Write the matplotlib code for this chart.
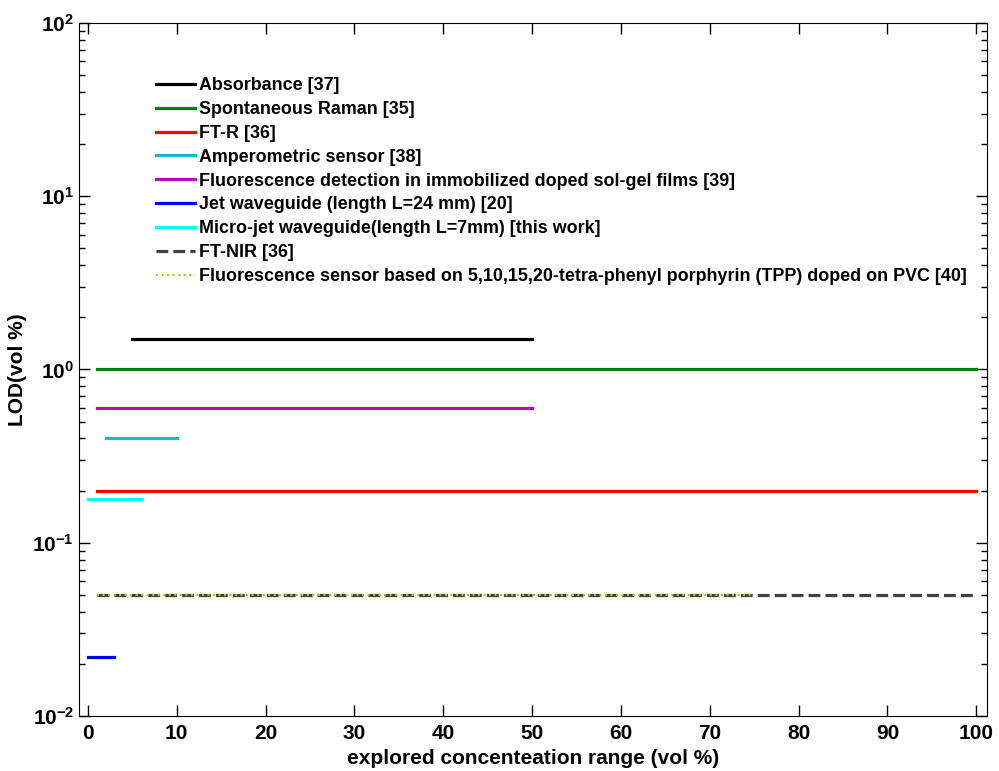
import matplotlib
matplotlib.use("Agg")
from matplotlib import pyplot as plt
from matplotlib.ticker import FixedLocator, LogLocator, NullFormatter

plt.rcParams['font.family'] = ['Liberation Sans', 'DejaVu Sans']
plt.rcParams['font.weight'] = 'bold'
plt.rcParams['mathtext.fontset'] = 'custom'
plt.rcParams['mathtext.rm'] = 'Liberation Sans'
plt.rcParams['mathtext.bf'] = 'Liberation Sans:bold'

# data
labels = ["Absorbance [37]",
          "Spontaneous Raman [35]",
          "FT-R [36]",
          "Amperometric sensor [38]",
          "Fluorescence detection in immobilized doped sol-gel films [39]",
          "Jet waveguide (length L=24 mm) [20]",
          "Micro-jet waveguide(length L=7mm) [this work]",
          "FT-NIR [36]",
          "Fluorescence sensor based on 5,10,15,20-tetra-phenyl porphyrin (TPP) doped on PVC [40]"]
x_start = [5, 1, 1, 2, 1, 0, 0, 1, 1]
x_end = [50, 100, 100, 10, 50, 3, 6, 100, 75]
lod = [1.5, 1.0, 0.2, 0.4, 0.6, 0.022, 0.18, 0.05, 0.05]

colors = ['k', (0, 0.5, 0), 'r', (0.05, 0.75, 0.75), (0.75, 0, 0.75), 'b', (0, 1, 1),
          (0.25, 0.25, 0.25), (0.75, 0.75, 0)]
styles = ['-', '-', '-', '-', '-', '-', '-', '--', ':']
widths = [2.3, 2.3, 2.3, 2.3, 2.3, 2.3, 2.3, 2.3, 1.5]

fig = plt.figure(figsize=(9.99, 7.71), dpi=100)
ax = fig.add_axes([0.079, 0.0713, 0.909, 0.899])

for i in range(len(labels)):
    ax.plot([x_start[i], x_end[i]], [lod[i], lod[i]], color=colors[i],
            linestyle=styles[i], linewidth=widths[i], label=labels[i])

ax.set_yscale('log')
ax.set_xlim(-1, 101.2)
ax.set_ylim(1e-2, 1e2)
ax.xaxis.set_major_locator(FixedLocator(range(0, 101, 10)))
ax.yaxis.set_major_locator(FixedLocator([1e-2, 1e-1, 1, 10, 100]))
ax.set_yticklabels([r'$\mathbf{10^{-2}}$', r'$\mathbf{10^{-1}}$', r'$\mathbf{10^{0}}$',
                    r'$\mathbf{10^{1}}$', r'$\mathbf{10^{2}}$'])
ax.yaxis.set_minor_locator(LogLocator(base=10, subs=range(2, 10)))
ax.yaxis.set_minor_formatter(NullFormatter())
ax.tick_params(which='both', direction='in', top=True, right=True, labelsize=15)
ax.tick_params(which='major', length=8, width=1)
ax.tick_params(which='minor', length=4, width=1)
ax.tick_params(axis='x', pad=6)

ax.set_xlabel("explored concenteation range (vol %)", fontsize=15, fontweight='bold')
ax.set_ylabel("LOD(vol %)", fontsize=15, fontweight='bold')

ax.legend(loc='upper left', bbox_to_anchor=(156 / 999, 1 - 77 / 771),
          bbox_transform=fig.transFigure, frameon=False, fontsize=12.9,
          handlelength=2.15, handletextpad=0.25, labelspacing=0.385,
          borderpad=0, borderaxespad=0)

fig.savefig("out.png", dpi=100)
